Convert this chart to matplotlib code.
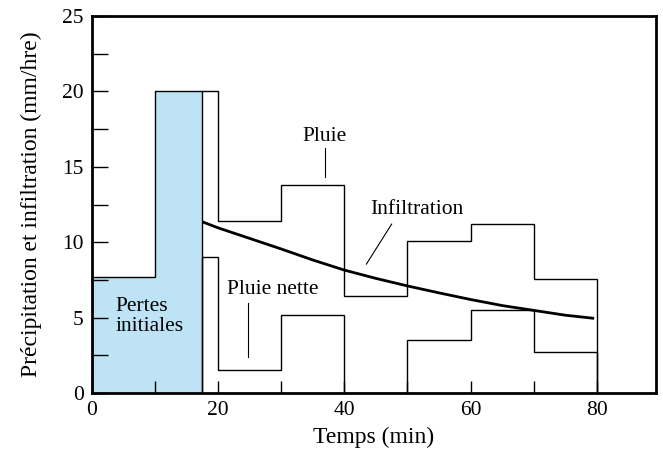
import matplotlib
matplotlib.use("Agg")
import matplotlib.pyplot as plt
from matplotlib.ticker import MultipleLocator

plt.rcParams['font.family'] = ['Liberation Serif', 'DejaVu Serif']

# ---- data ----
edges = [0, 10, 20, 30, 40, 50, 60, 70, 80]
rain = [7.7, 20, 11.4, 13.8, 6.45, 10.1, 11.2, 7.55]
ponding_time = 17.5
loss_edges = [0, 10, ponding_time]
loss_values = [7.7, 20]
net_edges = [ponding_time, 20, 30, 40, 50, 60, 70, 80]
net_rain = [9.0, 1.5, 5.2, 0, 3.5, 5.5, 2.7]
infil_t = [17.5, 20, 25, 30, 35, 40, 45, 50, 55, 60, 65, 70, 75, 79.6]
infil_v = [11.35, 10.95, 10.25, 9.55, 8.82, 8.15, 7.6, 7.1, 6.64, 6.2, 5.8, 5.48, 5.16, 4.95]

fig = plt.figure(figsize=(6.63, 4.5), dpi=100)
ax = fig.add_axes([92/663, 1-393/450, (656-92)/663, (393-16)/450])

blue = '#BEE3F4'
ax.stairs(loss_values, loss_edges, fill=True, color=blue, zorder=1)
ax.stairs(rain, edges, baseline=0, color='black', lw=1.0, zorder=2)
ax.plot([ponding_time, ponding_time], [0, 20], color='black', lw=1.0, zorder=2)
ax.stairs(net_rain, net_edges, baseline=0, color='black', lw=1.0, zorder=2)
ax.plot(infil_t, infil_v, color='black', lw=2.0, zorder=3, solid_capstyle='butt',
        solid_joinstyle='round')

ax.set_xlim(0, 89.4)
ax.set_ylim(0, 25)
ax.xaxis.set_major_locator(MultipleLocator(20))
ax.xaxis.set_minor_locator(MultipleLocator(10))
ax.yaxis.set_major_locator(MultipleLocator(5))
ax.yaxis.set_minor_locator(MultipleLocator(2.5))
ax.tick_params(axis='x', which='both', direction='in', length=8.6, width=1.0,
               labelsize=15.5, pad=6)
ax.tick_params(axis='y', which='both', direction='in', length=11.5, width=1.0,
               labelsize=15.5, pad=6)
for s in ax.spines.values():
    s.set_linewidth(2.0)

ax.set_xlabel('Temps (min)', fontsize=17)
ax.set_ylabel('Précipitation et infiltration (mm/hre)', fontsize=17)
ax.xaxis.label.set_va('center')
ax.xaxis.set_label_coords(0.5, -0.117)
ax.yaxis.label.set_va('center')
ax.yaxis.set_label_coords(-0.108, 0.5)

fs = 15.5
ax.text(36.9, 17.0, 'Pluie', ha='center', va='center', fontsize=fs)
ax.plot([36.9, 36.9], [16.25, 14.35], color='black', lw=0.8)
ax.text(51.5, 12.2, 'Infiltration', ha='center', va='center', fontsize=fs)
ax.plot([47.5, 43.5], [11.2, 8.55], color='black', lw=0.8)
ax.text(28.6, 6.88, 'Pluie nette', ha='center', va='center', fontsize=fs)
ax.plot([24.8, 24.8], [6.0, 2.4], color='black', lw=0.8)
ax.text(3.75, 5.06, 'Pertes\ninitiales', ha='left', va='center', fontsize=fs,
        linespacing=1.05)

fig.savefig('out.png', dpi=100)
